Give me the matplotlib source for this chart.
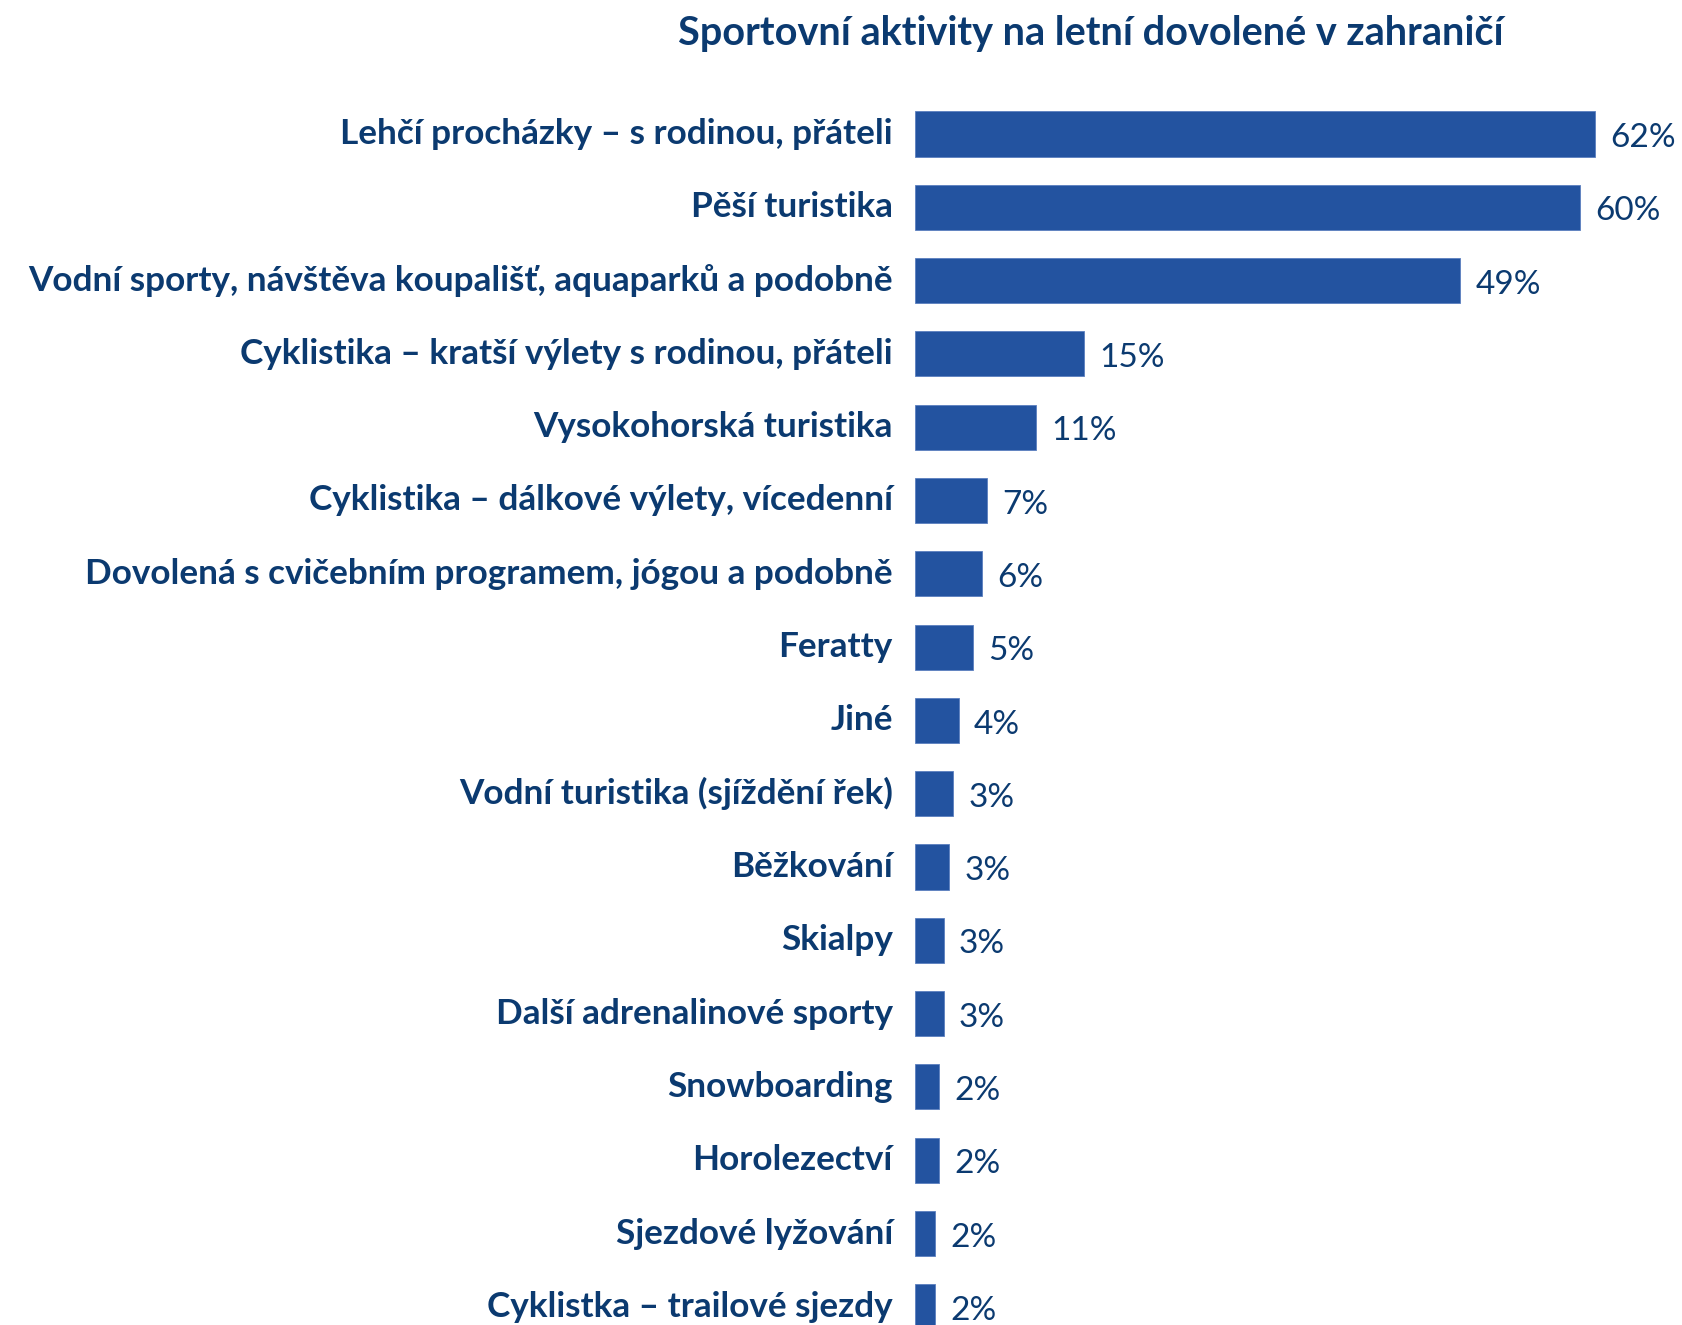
import matplotlib
matplotlib.use("Agg")
import matplotlib.pyplot as plt

title = "Sportovní aktivity na letní dovolené v zahraničí"
categories = [
    "Lehčí procházky – s rodinou, přáteli",
    "Pěší turistika",
    "Vodní sporty, návštěva koupališť, aquaparků a podobně",
    "Cyklistika – kratší výlety s rodinou, přáteli",
    "Vysokohorská turistika",
    "Cyklistika – dálkové výlety, vícedenní",
    "Dovolená s cvičebním programem, jógou a podobně",
    "Feratty",
    "Jiné",
    "Vodní turistika (sjíždění řek)",
    "Běžkování",
    "Skialpy",
    "Další adrenalinové sporty",
    "Snowboarding",
    "Horolezectví",
    "Sjezdové lyžování",
    "Cyklistka – trailové sjezdy",
]
values = [62.0, 60.6, 49.7, 15.4, 11.0, 6.6, 6.1, 5.3, 4.0, 3.5, 3.1, 2.6, 2.6, 2.2, 2.2, 1.8, 1.8]
value_labels = ["62%", "60%", "49%", "15%", "11%", "7%", "6%", "5%", "4%",
                "3%", "3%", "3%", "3%", "2%", "2%", "2%", "2%"]

W, H = 1682, 1325
fig = plt.figure(figsize=(W / 100, H / 100), dpi=100)
fig.patch.set_facecolor("white")

bar_color = "#2353a0"
text_color = "#0b3a70"
font = ["Lato", "DejaVu Sans"]

left_px = 915
ax = fig.add_axes([left_px / W, 0, (W - left_px) / W, 1])
px_per_unit = 10.97
ax.set_xlim(0, (W - left_px) / px_per_unit)

first_center = 134.0
spacing = 73.3
ax.set_ylim((H - first_center) / spacing, -first_center / spacing)

ypos = list(range(len(categories)))
ax.barh(ypos, values, height=0.615, color=bar_color, edgecolor="#5b7fbf", linewidth=0.6)

for y, v, lab in zip(ypos, values, value_labels):
    ax.annotate(lab, xy=(v, y), xytext=(11, -3), textcoords="offset points",
                ha="left", va="center", fontsize=24, color=text_color, family=font)
    ax.annotate(categories[y], xy=(0, y), xytext=(-16, 0), textcoords="offset points",
                ha="right", va="center", fontsize=25.3, fontweight="bold",
                color=text_color, family=font, annotation_clip=False)

ax.axis("off")

fig.text(1091 / W, 1 - 34 / H, title, ha="center", va="center", fontsize=28.5,
         fontweight="bold", color=text_color, family=font)

fig.savefig("out.png", dpi=100, facecolor="white")
